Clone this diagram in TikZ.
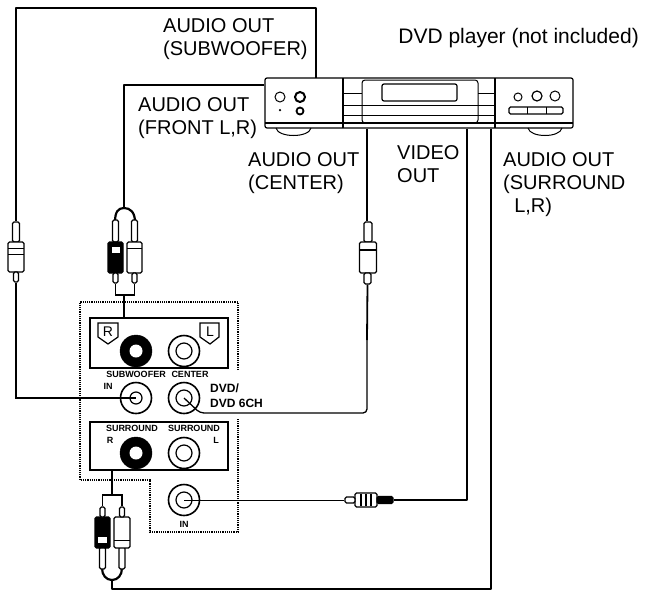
\documentclass[tikz,border=0pt]{standalone}
\usepackage{fontspec}
\setmainfont{Liberation Sans}
\usetikzlibrary{positioning}

\tikzset{
	wire/.style={line width=2.2pt,line join=round},
	thinwire/.style={line width=1.3pt},
	part/.style={draw=black,line width=1.2pt,fill=white,rounded corners=1.5pt,inner sep=0pt},
	blackpart/.style={draw=black,line width=1.2pt,fill=black,rounded corners=1.5pt,inner sep=0pt},
	panel/.style={draw=black,line width=1.5pt,minimum width=138pt,inner sep=0pt},
	outline/.style={line width=1.2pt,densely dotted},
	caption/.style={font=\fontsize{20}{23}\selectfont,align=left,anchor=north west,inner sep=0pt},
	tag/.style={font=\fontsize{9}{9}\selectfont\bfseries,inner sep=0pt},
	bigtag/.style={font=\fontsize{12}{15}\selectfont\bfseries,align=left,anchor=west,inner sep=0pt},
	marktext/.style={font=\fontsize{14}{14}\selectfont},
	blackjack/.style={shape=circle,fill=black,draw=black,minimum size=32pt,inner sep=0pt},
	whitejack/.style={shape=circle,draw=black,line width=1.6pt,minimum size=31pt,inner sep=0pt},
	hole/.style={shape=circle,fill=white,minimum size=13pt,inner sep=0pt},
	innerring/.style={shape=circle,draw=black,line width=1.2pt,minimum size=16pt,inner sep=0pt},
	knob/.style={shape=circle,draw=black,inner sep=0pt},
}

\begin{document}
\begin{tikzpicture}[x=1pt,y=-1pt]
	\useasboundingbox (0,0) rectangle (651,592);

	% dvd player
	\draw[line width=1pt] (276,128) .. controls (278,138) and (309,138) .. (311,128);
	\draw[line width=1pt] (528,128) .. controls (530,138) and (560,138) .. (562,128);
	\node[draw=black,line width=1.2pt,rounded corners=2pt,minimum width=308pt,minimum height=50pt,inner sep=0pt] (dvd) at (419,103) {};
	\node[draw=black,line width=1pt,rounded corners=3pt,minimum width=116pt,minimum height=43pt,inner sep=0pt] (tray) at (420,101.5) {};
	\node[draw=black,line width=1.2pt,rounded corners=2pt,minimum width=75pt,minimum height=17pt,inner sep=0pt] (display) at (419.5,92.5) {};
	\draw[line width=1.6pt] (343,78) -- (343,128);
	\draw[line width=1.4pt] (495,78) -- (495,128);
	\draw[line width=1pt] (344,93) -- (362,93) (344,105) -- (362,105) (344,115) -- (362,115);
	\draw[line width=1pt] (478,93) -- (495,93) (478,105) -- (495,105) (478,115) -- (495,115);
	\draw[line width=1pt] (362,105) -- (478,105) (362,115) -- (478,115);
	\draw[line width=1.2pt] (265,123) -- (573,123);
	\node[knob,line width=1pt,minimum size=10pt] (knoba) at (280,97) {};
	\node[knob,line width=2pt,minimum size=10pt] (knobb) at (300,97) {};
	\node[knob,line width=1.8pt,minimum size=7pt] (knobc) at (300,111) {};
	\node[shape=circle,fill=black,minimum size=2.5pt,inner sep=0pt] (knobd) at (280,110) {};
	\node[knob,line width=1pt,minimum size=8pt] (knobe) at (518,97) {};
	\node[knob,line width=1.2pt,minimum size=10pt] (knobf) at (537,96) {};
	\node[knob,line width=1pt,minimum size=10pt] (knobg) at (555,96) {};
	\draw[line width=1.2pt,rounded corners=1.5pt] (509,107) rectangle (563,114);
	\draw[line width=1pt] (527,107) -- (527,114) (546,107) -- (546,114);

	% receiver panel
	\draw[outline] (238,370) -- (238,302) -- (80,302) -- (80,480) -- (150,480) -- (150,532) -- (238,532) -- (238,418);
	\node[panel,minimum height=50pt] (front) at (159,343) {};
	\node[panel,minimum height=48pt] (surround) at (159,446) {};

	\node[blackjack] (jackr) at (136,351) {};
	\node[hole] at (jackr) {};
	\node[whitejack] (jackl) at (184,351) {};
	\node[innerring] at (jackl) {};
	\node[whitejack] (jacksub) at (136,398) {};
	\node[innerring,minimum size=12pt] at (jacksub) {};
	\node[whitejack] (jackcenter) at (184,398) {};
	\node[innerring] at (jackcenter) {};
	\node[blackjack] (jacksr) at (136,453) {};
	\node[hole] at (jacksr) {};
	\node[whitejack] (jacksl) at (184,453) {};
	\node[innerring] at (jacksl) {};
	\node[whitejack] (jackin) at (184,500) {};
	\node[innerring] at (jackin) {};

	\draw[line width=1.2pt,fill=white] (98,323) -- (118,323) -- (118,337) -- (108,344) -- (98,337) -- cycle;
	\draw[line width=1.2pt,fill=white] (200,323) -- (219,323) -- (219,337) -- (210,344) -- (200,337) -- cycle;
	\node[marktext] (markr) at (108,332) {R};
	\node[marktext] (markl) at (210,332) {L};

	\node[tag] (subtag) at (136,374) {SUBWOOFER};
	\node[tag] (centertag) at (190,374) {CENTER};
	\node[tag] (intag) at (108,386) {IN};
	\node[tag] (srtag) at (132,428) {SURROUND};
	\node[tag] (sltag) at (194,428) {SURROUND};
	\node[tag] (rtag) at (110,440) {R};
	\node[tag] (ltag) at (216,440) {L};
	\node[tag] (invtag) at (184,524) {IN};
	\node[bigtag] (dvdtag) at (210,396) {DVD/\\DVD 6CH};

	% subwoofer wire
	\node[part,minimum width=7pt,minimum height=20pt] (subtop) at (16,232) {};
	\node[part,minimum width=16pt,minimum height=30pt] (subplug) at (16,257) {};
	\node[part,minimum width=5pt,minimum height=10pt] (subtip) at (16,277) {};
	\draw[line width=1pt] (8,248) -- (24,248) (8,254) -- (24,254);
	\draw[wire] (316,78) -- (316,8) -- (16,8) -- (subtop.north);
	\draw[thinwire] (subtip.south) -- (16,398) -- (jacksub.center);

	% front wires
	\draw[wire] (dvd.west |- 0,85) -- (124,85) -- (124,208) coordinate (frontfork);
	\draw[wire] (115,222) .. controls (115,212) and (118,208) .. (frontfork) .. controls (130,208) and (135,212) .. (135,222);
	\node[part,minimum width=6pt,minimum height=22pt] (fronta) at (115.5,231) {};
	\node[blackpart,minimum width=15pt,minimum height=31pt] (frontblack) at (115.5,257.5) {};
	\node[fill=white,minimum width=8pt,minimum height=6pt,inner sep=0pt] (frontwindow) at (115.5,250) {};
	\node[part,minimum width=6pt,minimum height=22pt] (frontb) at (134.5,231) {};
	\node[part,minimum width=15pt,minimum height=31pt] (frontwhite) at (134.5,257.5) {};
	\draw[line width=1pt] (127,248) -- (142,248);
	\node[part,minimum width=5pt,minimum height=10pt] (frontc) at (115.5,278) {};
	\node[part,minimum width=5pt,minimum height=10pt] (frontd) at (134.5,278) {};
	\draw[thinwire] (frontc.south) -- (115.5,295) -- (134.5,295) -- (frontd.south);
	\draw[thinwire] (124,295) -- (front.north -| 124,0);

	% center wire
	\node[part,minimum width=8pt,minimum height=20pt] (centertop) at (368,232) {};
	\node[part,minimum width=17pt,minimum height=31pt] (centerplug) at (368,257.5) {};
	\node[part,minimum width=7pt,minimum height=11pt] (centertip) at (367.5,278.5) {};
	\draw[line width=2.5pt] (360,250) -- (376,250);
	\draw[wire] (dvd.south -| 367,0) -- (centertop.north -| 367,0);
	\draw[wire,line width=1.8pt] (centertip.south) -- (367,340);
	\draw[thinwire,rounded corners=4pt] (367,340) -- (367,413) -- (200,413) -- (jackcenter.center);

	% video wire
	\node[part,minimum width=22pt,minimum height=14pt] (videoplug) at (366,500) {};
	\draw[line width=1.4pt] (361,494) -- (361,506) (366,494) -- (366,506) (371,494) -- (371,506);
	\node[part,minimum width=10pt,minimum height=6pt] (videotip) at (350,500) {};
	\node[blackpart,minimum width=16pt,minimum height=7pt] (videotube) at (385,500) {};
	\draw[wire] (dvd.south -| 467,0) -- (467,500) -- (videotube);
	\draw[thinwire,line width=1pt] (videotip) -- (jackin.center);

	% surround wires
	\draw[wire] (dvd.south -| 491,0) -- (491,589) -- (112,589) -- (112,580) coordinate (surroundfork);
	\draw[wire] (102,568) .. controls (102,575) and (106,580) .. (surroundfork) .. controls (118,580) and (122,575) .. (122,568);
	\node[part,minimum width=6pt,minimum height=22pt] (surrounda) at (102.5,558) {};
	\node[blackpart,minimum width=15pt,minimum height=31pt] (surroundblack) at (102.5,532.5) {};
	\node[fill=white,minimum width=9pt,minimum height=6pt,inner sep=0pt] (surroundwindow) at (102.5,540) {};
	\node[part,minimum width=6pt,minimum height=22pt] (surroundb) at (122,558) {};
	\node[part,minimum width=16pt,minimum height=31pt] (surroundwhite) at (122,532.5) {};
	\draw[line width=1pt] (114,540) -- (130,540);
	\node[part,minimum width=5pt,minimum height=10pt] (surroundc) at (102.5,512) {};
	\node[part,minimum width=5pt,minimum height=10pt] (surroundd) at (122,512) {};
	\draw[thinwire] (surroundc.north) -- (102.5,495) -- (122,495) -- (surroundd.north);
	\draw[thinwire] (112,495) -- (surround.south -| 112,0);

	% captions
	\node[caption] (subcap) at (163,18) {AUDIO OUT\\(SUBWOOFER)};
	\node[caption] (frontcap) at (138,97) {AUDIO OUT\\(FRONT L,R)};
	\node[caption] (centercap) at (248,152) {AUDIO OUT\\(CENTER)};
	\node[caption] (videocap) at (397,145) {VIDEO\\OUT};
	\node[caption] (surroundcap) at (503,152) {AUDIO OUT\\(SURROUND\\\ \ L,R)};
	\node[caption,anchor=base east,font=\fontsize{21}{23}\selectfont] (dvdcap) at (639,43) {DVD player (not included)};
\end{tikzpicture}
\end{document}
